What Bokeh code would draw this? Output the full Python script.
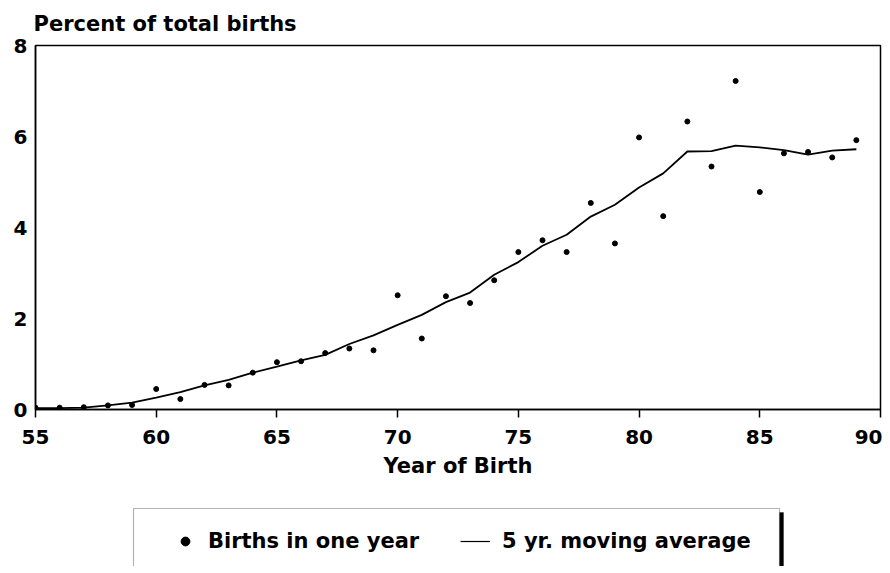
from bokeh.plotting import figure
from bokeh.models import Range1d, FixedTicker, BoxAnnotation, Legend, LegendItem, ColumnDataSource
from bokeh.layouts import column
from bokeh.embed import file_html
from bokeh.resources import INLINE

years = list(range(55, 90))
births = [0.04, 0.04, 0.05, 0.09, 0.10, 0.45, 0.23, 0.54, 0.53, 0.81,
          1.04, 1.06, 1.24, 1.34, 1.30, 2.51, 1.56, 2.49, 2.34, 2.84,
          3.46, 3.72, 3.46, 4.54, 3.65, 5.98, 4.25, 6.33, 5.34, 7.22,
          4.78, 5.63, 5.66, 5.54, 5.92]
moving_avg = [0.03, 0.03, 0.04, 0.09, 0.15, 0.26, 0.38, 0.53, 0.65, 0.81,
              0.94, 1.08, 1.20, 1.44, 1.63, 1.86, 2.08, 2.36, 2.57, 2.96,
              3.24, 3.60, 3.84, 4.24, 4.50, 4.88, 5.19, 5.67, 5.68, 5.80,
              5.76, 5.70, 5.60, 5.69, 5.72]
x_ticks = [55, 60, 65, 70, 75, 80, 85, 90]
y_ticks = [0, 2, 4, 6, 8]

FONT = "DejaVu Sans"

src = ColumnDataSource(dict(year=years, births=births, avg=moving_avg))

p = figure(frame_width=845, frame_height=364,
           x_range=Range1d(55, 90), y_range=Range1d(0, 8),
           output_backend="svg", toolbar_location=None,
           min_border_left=35, min_border_right=2, min_border_top=44,
           min_border_bottom=80)
p.background_fill_color = "white"
p.border_fill_color = "white"
p.outline_line_color = "black"
p.outline_line_width = 1.5
p.grid.visible = False

p.title.text = "Percent of total births"
p.title.align = "left"
p.title.text_font = FONT
p.title.text_font_style = "bold"
p.title.text_font_size = "21px"
p.title.text_color = "black"
p.title.offset = -2
p.title.standoff = 19

p.xaxis.ticker = FixedTicker(ticks=x_ticks)
p.yaxis.ticker = FixedTicker(ticks=y_ticks)
p.xaxis.minor_tick_line_color = None
p.yaxis.minor_tick_line_color = None
p.xaxis.major_tick_out = 8
p.xaxis.major_tick_in = 0
p.xaxis.major_tick_line_width = 1.5
p.yaxis.major_tick_out = 0
p.yaxis.major_tick_in = 0
p.axis.axis_line_width = 1.5
p.axis.axis_line_color = "black"
p.axis.major_label_text_font = FONT
p.axis.major_label_text_font_style = "bold"
p.axis.major_label_text_font_size = "20px"
p.axis.major_label_text_color = "black"
p.xaxis.major_label_standoff = 12
p.yaxis.major_label_standoff = 8
p.xaxis.axis_label = "Year of Birth"
p.xaxis.axis_label_text_font = FONT
p.xaxis.axis_label_text_font_style = "bold"
p.xaxis.axis_label_text_font_size = "21px"
p.xaxis.axis_label_text_color = "black"
p.xaxis.axis_label_standoff = 7

p.line("year", "avg", source=src, line_color="black", line_width=1.8)
p.scatter("year", "births", source=src, marker="circle", size=5,
          fill_color="black", line_color="black")

# legend panel (frame aligned with the main frame: page x 35..880)
LH = 77
lg = figure(width=882, height=LH, x_range=Range1d(35, 880), y_range=Range1d(0, LH),
            output_backend="svg", toolbar_location=None,
            min_border=0, min_border_left=35, min_border_right=2,
            min_border_top=0, min_border_bottom=0)
lg.axis.visible = False
lg.grid.visible = False
lg.outline_line_color = None
lg.background_fill_color = "white"
lg.border_fill_color = "white"

lg.add_layout(BoxAnnotation(left=137, right=783, bottom=-10, top=LH - 23,
                            fill_color="black", fill_alpha=1, line_color="black"))
lg.add_layout(BoxAnnotation(left=133, right=779, bottom=-10, top=LH - 19,
                            fill_color="white", fill_alpha=1, line_color="black",
                            line_width=1.2))

esrc = ColumnDataSource(dict(x=[-1000], y=[-1000]))
r_pt = lg.scatter("x", "y", source=esrc, marker="circle", size=5,
                  fill_color="black", line_color="black")
r_ln = lg.line("x", "y", source=esrc, line_color="black", line_width=1.2)

common = dict(orientation="horizontal", padding=0, margin=0, glyph_width=30,
              glyph_height=22, border_line_color=None, background_fill_alpha=0,
              label_text_font=FONT, label_text_font_style="bold",
              label_text_font_size="21px", label_text_color="black")
leg1 = Legend(items=[LegendItem(label="Births in one year", renderers=[r_pt])],
              location=(135, 13), label_standoff=8, **common)
leg2 = Legend(items=[LegendItem(label="5 yr. moving average", renderers=[r_ln])],
              location=(425, 13), label_standoff=12, **common)
lg.add_layout(leg1)
lg.add_layout(leg2)

layout = column(p, lg, spacing=0)
open("out.html", "w").write(file_html(layout, INLINE))
